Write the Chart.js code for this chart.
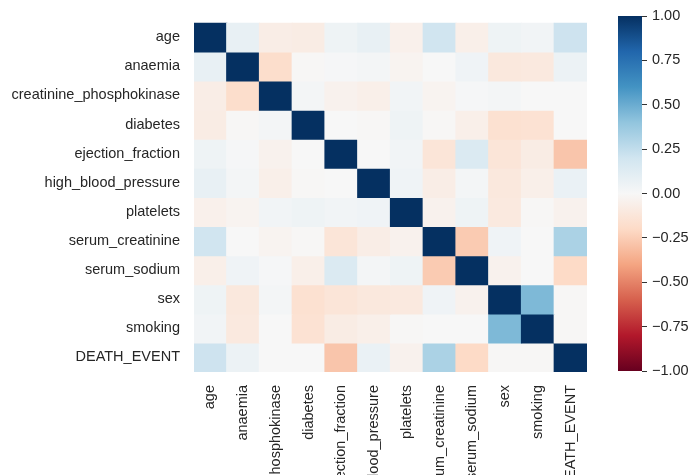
<!DOCTYPE html>
<html>
<head>
<meta charset="utf-8">
<script src="https://cdn.jsdelivr.net/npm/chart.js@4/dist/chart.umd.min.js"></script>
<style>
  html, body { margin: 0; padding: 0; background: #ffffff; }
  #wrap { position: relative; width: 694px; height: 475px; overflow: hidden; background: #ffffff; }
  #heat { position: absolute; left: 0; top: 0; }
  #bar { position: absolute; left: 600px; top: 0; }
</style>
</head>
<body>
<div id="wrap">
  <canvas id="heat" width="694" height="475"></canvas>
  <canvas id="bar" width="94" height="475"></canvas>
</div>
<script>
// Clinical record variables, in matrix order
const variables = [
  'age', 'anaemia', 'creatinine_phosphokinase', 'diabetes', 'ejection_fraction',
  'high_blood_pressure', 'platelets', 'serum_creatinine', 'serum_sodium',
  'sex', 'smoking', 'DEATH_EVENT'
];

// Pairwise correlation coefficients, one row per variable
const ageRow        = [ 1.00,  0.08, -0.07, -0.08,  0.05,  0.08, -0.05,  0.20, -0.06,  0.05,  0.03,  0.21];
const anaemiaRow    = [ 0.08,  1.00, -0.18, -0.01,  0.01,  0.02, -0.03,  0.00,  0.04, -0.11, -0.10,  0.06];
const cpkRow        = [-0.07, -0.18,  1.00,  0.02, -0.04, -0.06,  0.03, -0.03,  0.01,  0.02,  0.00,  0.00];
const diabetesRow   = [-0.08, -0.01,  0.02,  1.00,  0.00, -0.01,  0.05, -0.01, -0.06, -0.16, -0.15,  0.00];
const ejectionRow   = [ 0.05,  0.01, -0.04,  0.00,  1.00,  0.00,  0.03, -0.13,  0.15, -0.13, -0.08, -0.28];
const pressureRow   = [ 0.08,  0.02, -0.06, -0.01,  0.00,  1.00,  0.04, -0.07,  0.02, -0.11, -0.06,  0.07];
const plateletsRow  = [-0.05, -0.03,  0.03,  0.05,  0.03,  0.04,  1.00, -0.04,  0.05, -0.10, -0.01, -0.04];
const creatinineRow = [ 0.20,  0.00, -0.03, -0.01, -0.13, -0.07, -0.04,  1.00, -0.26,  0.04,  0.00,  0.32];
const sodiumRow     = [-0.06,  0.04,  0.01, -0.06,  0.15,  0.02,  0.05, -0.26,  1.00, -0.04,  0.00, -0.20];
const sexRow        = [ 0.05, -0.11,  0.02, -0.16, -0.13, -0.11, -0.10,  0.04, -0.04,  1.00,  0.45, -0.01];
const smokingRow    = [ 0.03, -0.10,  0.00, -0.15, -0.08, -0.06, -0.01,  0.00,  0.00,  0.45,  1.00, -0.01];
const deathRow      = [ 0.21,  0.06,  0.00,  0.00, -0.28,  0.07, -0.04,  0.32, -0.20, -0.01, -0.01,  1.00];

const corr = [
  ageRow, anaemiaRow, cpkRow, diabetesRow, ejectionRow, pressureRow,
  plateletsRow, creatinineRow, sodiumRow, sexRow, smokingRow, deathRow
];

// Colour bar tick values
const colorbarTicks = [1.00, 0.75, 0.50, 0.25, 0.00, -0.25, -0.50, -0.75, -1.00];

// Diverging red-blue palette (red = -1, blue = +1)
const palette = [
  '#67001f', '#b2182b', '#d6604d', '#f4a582', '#fddbc7', '#f7f7f7',
  '#d1e5f0', '#92c5de', '#4393c3', '#2166ac', '#053061'
];

function hexToRgb(h) {
  return [parseInt(h.slice(1, 3), 16), parseInt(h.slice(3, 5), 16), parseInt(h.slice(5, 7), 16)];
}

function colorFor(v) {
  const t = Math.max(0, Math.min(1, (v + 1) / 2)) * (palette.length - 1);
  const i = Math.min(palette.length - 2, Math.floor(t));
  const f = t - i;
  const a = hexToRgb(palette[i]);
  const b = hexToRgb(palette[i + 1]);
  const c = a.map((x, k) => Math.round(x + (b[k] - x) * f));
  return `rgb(${c[0]}, ${c[1]}, ${c[2]})`;
}

const FONT = '"Liberation Sans", Arial, Helvetica, sans-serif';
const TEXT = '#262626';
const SIZE = 14.5;

// Heatmap: each row is one stacked bar segment of height 1 in every column
const heatDatasets = variables.map((name, r) => ({
  label: name,
  data: variables.map(() => 1),
  backgroundColor: corr[r].map(colorFor),
  borderWidth: 0,
  barPercentage: 1,
  categoryPercentage: 1,
  inflateAmount: 0.6
}));

new Chart(document.getElementById('heat'), {
  type: 'bar',
  data: { labels: variables, datasets: heatDatasets },
  options: {
    responsive: false,
    animation: false,
    devicePixelRatio: 1,
    events: [],
    layout: { padding: { top: 15, right: 107, left: 0, bottom: 0 } },
    plugins: { legend: { display: false }, tooltip: { enabled: false } },
    scales: {
      x: {
        stacked: true,
        offset: true,
        grid: { display: false, drawTicks: false, tickLength: 0 },
        border: { display: false },
        ticks: {
          autoSkip: false,
          minRotation: 90,
          maxRotation: 90,
          padding: 13,
          color: TEXT,
          font: { family: FONT, size: SIZE }
        },
        afterFit(scale) { scale.height = 103; }
      },
      y: {
        type: 'linear',
        stacked: true,
        reverse: true,
        min: 0,
        max: variables.length,
        grid: { display: false, drawTicks: false, tickLength: 0 },
        border: { display: false },
        afterBuildTicks(scale) {
          scale.ticks = variables.map((_, i) => ({ value: i + 0.5 }));
        },
        ticks: {
          autoSkip: false,
          padding: 14,
          color: TEXT,
          font: { family: FONT, size: SIZE },
          callback: (v) => variables[Math.floor(v)]
        },
        afterFit(scale) { scale.width = 194; }
      }
    }
  }
});

// Colour bar: a single floating bar from -1 to 1 filled with the palette gradient
function fmt(v) {
  return (v < 0 ? '\u2212' : '') + Math.abs(v).toFixed(2);
}

new Chart(document.getElementById('bar'), {
  type: 'bar',
  data: {
    labels: [''],
    datasets: [{
      data: [[-1, 1]],
      borderWidth: 0,
      barPercentage: 1,
      categoryPercentage: 1,
      inflateAmount: 0,
      backgroundColor(ctx) {
        const chart = ctx.chart;
        if (!chart.chartArea) return palette[5];
        const y = chart.scales.y;
        const g = chart.ctx.createLinearGradient(0, y.getPixelForValue(-1), 0, y.getPixelForValue(1));
        palette.forEach((c, i) => g.addColorStop(i / (palette.length - 1), c));
        return g;
      }
    }]
  },
  options: {
    responsive: false,
    animation: false,
    devicePixelRatio: 1,
    events: [],
    layout: { padding: { left: 18, top: 16, bottom: 104, right: 0 } },
    plugins: { legend: { display: false }, tooltip: { enabled: false } },
    scales: {
      x: { display: false },
      y: {
        position: 'right',
        min: -1,
        max: 1,
        border: { display: false },
        grid: { drawOnChartArea: false, drawTicks: true, tickLength: 5, color: '#333333', lineWidth: 1 },
        afterBuildTicks(scale) {
          scale.ticks = colorbarTicks.map((v) => ({ value: v }));
        },
        ticks: {
          autoSkip: false,
          padding: 5,
          color: TEXT,
          font: { family: FONT, size: SIZE },
          callback: (v) => fmt(v)
        },
        afterFit(scale) { scale.width = 52; }
      }
    }
  }
});
</script>
</body>
</html>
